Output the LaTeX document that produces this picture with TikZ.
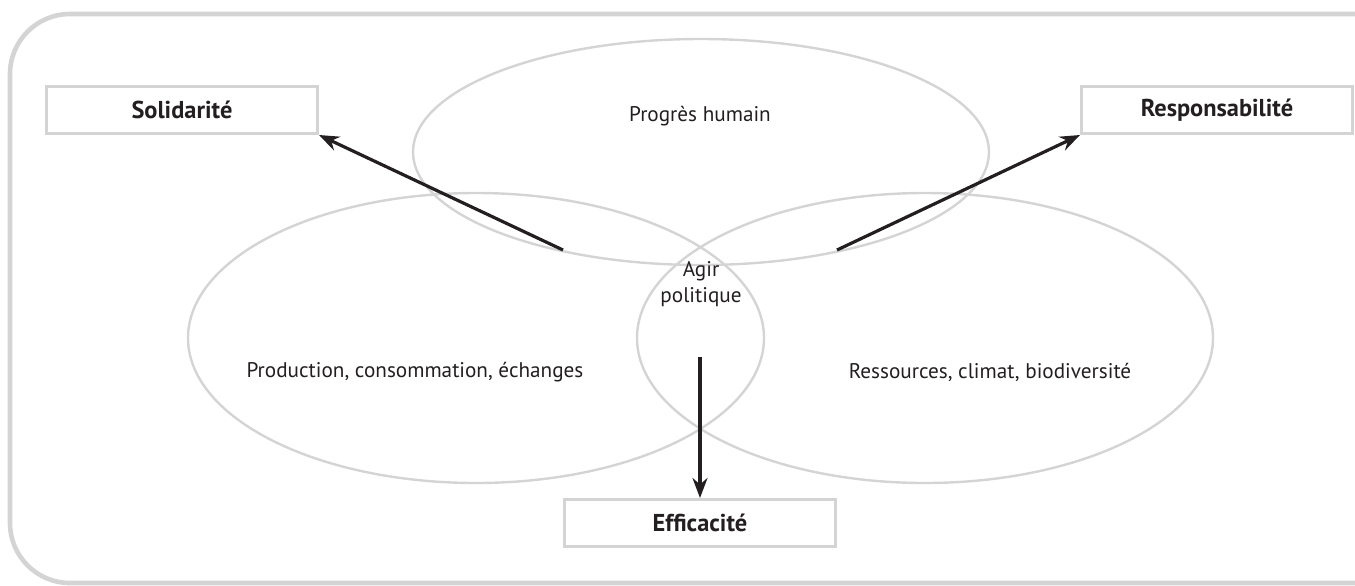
\documentclass[tikz,border=0pt]{standalone}
\usepackage{fontspec}
\setmainfont{PT Sans}
\usetikzlibrary{arrows.meta}
\definecolor{cadre}{HTML}{D4D4D4}
\definecolor{encre}{HTML}{231F20}

\begin{document}
\begin{tikzpicture}[x=0.5pt,y=-0.5pt,>={Stealth[length=10pt,width=7.5pt]},
	valeur/.style={draw=cadre,line width=1.5pt,minimum width=135.5pt,
		minimum height=23.5pt,inner sep=0pt,font=\fontsize{12.2}{14}\selectfont\bfseries,text=encre},
	legende/.style={font=\fontsize{10.6}{13}\selectfont,text=encre,inner sep=0pt},
	sphere/.style={draw=cadre,line width=1.2pt},
	fleche/.style={->,draw=encre,line width=1.6pt}]
		\useasboundingbox (0,0) rectangle (1355,585);
		\draw[cadre,line width=2.3pt,rounded corners=30pt]
			(1365,14) -- (10,14) -- (10,583) -- (1365,583);
		\draw[sphere] (701,152) ellipse (144pt and 56.5pt);
		\draw[sphere] (476,338) ellipse (144pt and 72.5pt);
		\draw[sphere] (925,338) ellipse (144pt and 72.5pt);
		\node[legende] (progres) at (700,116) {Progrès humain};
		\node[legende,align=center] (agir) at (701,284) {Agir\\politique};
		\node[legende] (production) at (415,372) {Production, consommation, échanges};
		\node[legende] (ressources) at (990,372) {Ressources, climat, biodiversité};
		\node[valeur] (solidarite) at (182,110) {Solidarité};
		\node[valeur] (responsabilite) at (1217,110) {Responsabilité};
		\node[valeur] (efficacite) at (700,523) {Efficacité};
		\coordinate (versS) at (563,250);
		\coordinate (versR) at (837,250);
		\coordinate (versE) at (700,357);
		\draw[fleche] (versS) -- (solidarite.south east);
		\draw[fleche] (versR) -- (responsabilite.south west);
		\draw[fleche] (versE) -- (efficacite.north);
\end{tikzpicture}
\end{document}
